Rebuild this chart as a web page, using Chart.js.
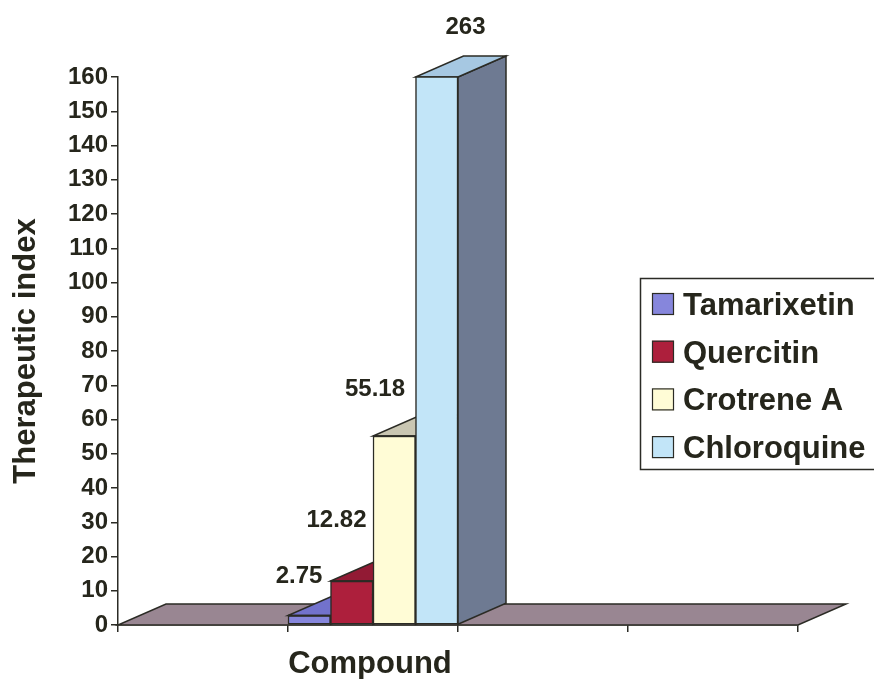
<!DOCTYPE html>
<html>
<head>
<meta charset="utf-8">
<title>Therapeutic index</title>
<script src="https://cdn.jsdelivr.net/npm/chart.js@4.4.1/dist/chart.umd.min.js"></script>
<style>
  html, body { margin: 0; padding: 0; background: #fff; }
</style>
</head>
<body>
<canvas id="myChart" width="874" height="679"></canvas>
<script>
// data
const compounds = ['Tamarixetin', 'Quercitin', 'Crotrene A', 'Chloroquine'];
const therapeuticIndex = [2.75, 12.82, 55.18, 263];
// four slots along the category axis, the compounds share the second one
const slots = ['', '', '', ''];
const usedSlot = 1;
const yMin = 0, yMax = 160, yStep = 10;

// styles
const frontColors = ['#8686dc', '#ad1f3c', '#fffcd6', '#c2e5f8'];
const topColors = ['#7272cc', '#921a34', '#c9c6b2', '#a6c8e2'];
const sideColors = ['#5c5ca8', '#701428', '#a8a690', '#6e7a92'];
const floorColor = '#998692';
const ink = '#26261c';
const edge = '#2b2b25';
const depth = { dx: 48, dy: -21 };
const FONT = '"Liberation Sans", Arial, sans-serif';
// label offsets from the left/back-top corner of each column
const labelNudge = [[11, -18], [6, -40], [2, -26], [50, -29]];

function poly(ctx, pts, fill) {
  ctx.beginPath();
  ctx.moveTo(pts[0][0], pts[0][1]);
  for (let k = 1; k < pts.length; k++) ctx.lineTo(pts[k][0], pts[k][1]);
  ctx.closePath();
  if (fill) { ctx.fillStyle = fill; ctx.fill(); }
  ctx.stroke();
}

function barBox(chart, i) {
  const a = chart.chartArea;
  const bar = chart.getDatasetMeta(i).data[usedSlot];
  return {
    L: bar.x - bar.width / 2,
    R: bar.x + bar.width / 2,
    T: Math.max(bar.y, a.top),
    B: bar.base
  };
}

// floor, side and top faces go under the flat bars Chart.js draws
const box3d = {
  id: 'box3d',
  beforeDatasetsDraw(chart) {
    const { ctx, chartArea: a } = chart;
    const { dx, dy } = depth;
    ctx.save();
    ctx.lineWidth = 1.5;
    ctx.strokeStyle = edge;
    ctx.lineJoin = 'miter';
    poly(ctx, [[a.left, a.bottom], [a.right, a.bottom], [a.right + dx, a.bottom + dy], [a.left + dx, a.bottom + dy]], floorColor);
    chart.data.datasets.forEach((ds, i) => {
      const b = barBox(chart, i);
      poly(ctx, [[b.R, b.B], [b.R + dx, b.B + dy], [b.R + dx, b.T + dy], [b.R, b.T]], sideColors[i]);
      poly(ctx, [[b.L, b.T], [b.R, b.T], [b.R + dx, b.T + dy], [b.L + dx, b.T + dy]], topColors[i]);
    });
    ctx.restore();
  },
  afterDatasetsDraw(chart) {
    const { ctx } = chart;
    const { dy } = depth;
    ctx.save();
    ctx.lineWidth = 1.5;
    ctx.strokeStyle = edge;
    ctx.fillStyle = ink;
    ctx.font = 'bold 24px ' + FONT;
    ctx.textAlign = 'center';
    ctx.textBaseline = 'middle';
    chart.data.datasets.forEach((ds, i) => {
      const b = barBox(chart, i);
      // front top edge (the tallest column is cut at the top of the axis)
      ctx.beginPath();
      ctx.moveTo(b.L, b.T);
      ctx.lineTo(b.R, b.T);
      ctx.stroke();
      const v = ds.data[usedSlot];
      ctx.fillText(String(v), b.L + labelNudge[i][0], b.T + dy + labelNudge[i][1]);
    });
    ctx.restore();
  },
  afterDraw(chart) {
    const { ctx, chartArea: a } = chart;
    ctx.save();
    ctx.fillStyle = ink;

    // axis titles
    ctx.font = 'bold 31px ' + FONT;
    ctx.textAlign = 'center';
    ctx.textBaseline = 'alphabetic';
    ctx.fillText('Compound', a.left + 252, 673);
    ctx.save();
    ctx.translate(35, (a.top + a.bottom) / 2);
    ctx.rotate(-Math.PI / 2);
    ctx.fillText('Therapeutic index', 0, 0);
    ctx.restore();

    // legend
    ctx.lineWidth = 1.5;
    ctx.strokeStyle = edge;
    ctx.strokeRect(640.5, 278.5, 260, 191);
    ctx.textAlign = 'left';
    chart.data.datasets.forEach((ds, i) => {
      const cy = 304 + i * 47.7;
      ctx.lineWidth = 1.2;
      ctx.fillStyle = ds.backgroundColor;
      ctx.fillRect(652, cy - 11, 22, 22);
      ctx.strokeRect(652.5, cy - 10.5, 21, 21);
      ctx.fillStyle = ink;
      ctx.fillText(ds.label, 683, cy + 11);
    });
    ctx.restore();
  }
};

const datasets = compounds.map((name, i) => ({
  label: name,
  data: slots.map((s, j) => (j === usedSlot ? therapeuticIndex[i] : null)),
  backgroundColor: frontColors[i],
  borderColor: edge,
  borderWidth: 1.5,
  borderSkipped: false,
  barPercentage: 1,
  categoryPercentage: 1,
  clip: 0
}));

const ctx = document.getElementById('myChart').getContext('2d');
new Chart(ctx, {
  type: 'bar',
  data: { labels: slots, datasets: datasets },
  options: {
    responsive: false,
    devicePixelRatio: 1,
    animation: false,
    layout: { padding: { left: 0, top: 77, right: 76, bottom: 0 } },
    plugins: {
      legend: { display: false },
      tooltip: { enabled: false }
    },
    scales: {
      x: {
        offset: true,
        grid: { offset: true, drawOnChartArea: false, tickLength: 7, color: edge, lineWidth: 1.5 },
        border: { display: true, color: edge, width: 1.5 },
        ticks: { display: false },
        afterFit(scale) { scale.height = 54; }
      },
      y: {
        min: yMin,
        max: yMax,
        grid: { drawOnChartArea: false, tickLength: 7, color: edge, lineWidth: 1.5 },
        border: { display: true, color: edge, width: 1.5 },
        ticks: {
          stepSize: yStep,
          autoSkip: false,
          padding: 3,
          color: ink,
          font: { family: FONT, size: 24, weight: 'bold' }
        },
        afterFit(scale) { scale.width = 118; }
      }
    }
  },
  plugins: [box3d]
});
</script>
</body>
</html>
